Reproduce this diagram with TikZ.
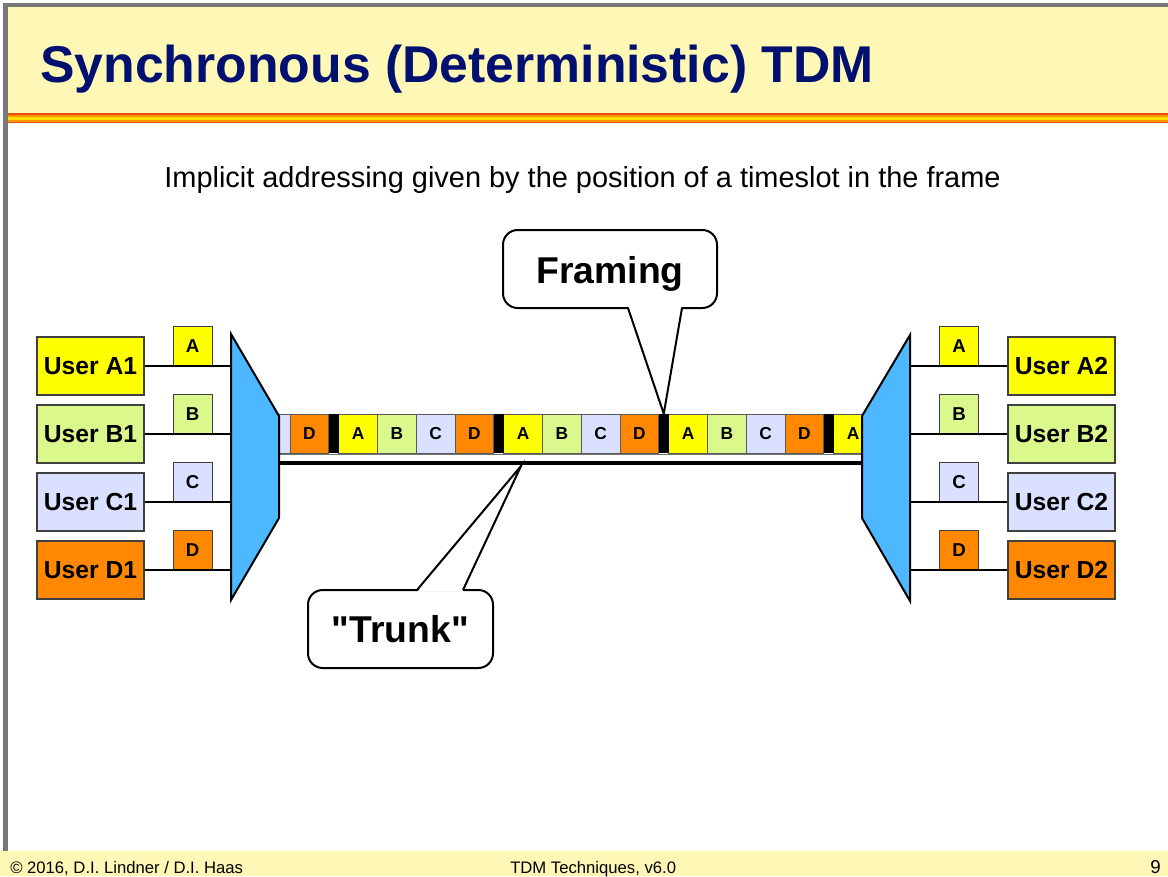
\documentclass[tikz,border=0pt]{standalone}
\usepackage{fontspec}
\setmainfont{Liberation Sans}
\newfontfamily\rawsans{Liberation Sans}
\definecolor{band}{RGB}{255,247,181}
\definecolor{navy}{RGB}{0,16,112}
\definecolor{cA}{RGB}{255,255,0}
\definecolor{cB}{RGB}{218,248,140}
\definecolor{cC}{RGB}{218,224,255}
\definecolor{cD}{RGB}{255,136,0}
\definecolor{muxblue}{RGB}{77,184,255}
\definecolor{stripeR}{RGB}{232,80,20}
\definecolor{stripeO}{RGB}{255,150,0}
\definecolor{stripeY}{RGB}{255,222,0}
\definecolor{bordergray}{RGB}{120,120,120}
\tikzset{
  ubox/.style={draw=black!75, line width=0.9pt, minimum width=80.25pt, minimum height=43.5pt, inner sep=0pt, font=\fontsize{18.5}{20}\selectfont\bfseries},
  lbox/.style={draw=black!75, line width=0.75pt, minimum width=29.25pt, minimum height=29.25pt, inner sep=0pt, font=\fontsize{14}{15}\selectfont\bfseries},
  slot/.style={draw=black!65, line width=0.6pt, minimum width=29.06pt, minimum height=29.25pt, inner sep=0pt, font=\fontsize{13}{14}\selectfont\bfseries},
  fslot/.style={fill=black, minimum width=7.5pt, minimum height=29.25pt, inner sep=0pt},
  muxshape/.style={fill=muxblue, draw=black, line width=1.5pt, line join=miter},
  wire/.style={draw=black, line width=1.1pt},
  callout/.style={draw=black, line width=1.5pt, rounded corners=11pt, fill=white, inner sep=0pt, font=\rawsans\fontsize{28}{30}\selectfont\bfseries},
  pointer/.style={draw=black, line width=1.5pt, line join=miter},
  foot/.style={anchor=base west, inner sep=0pt, font=\fontsize{12.5}{14}\selectfont}
}
\begin{document}
\begin{tikzpicture}[x=0.75pt,y=-0.75pt]
\useasboundingbox (0,0) rectangle (1168,876);
% frame, title band, stripes
\fill[white] (0,0) rectangle (1168,876);
\fill[band] (8,7) rectangle (1168,113);
\fill[bordergray] (3,3) rectangle (1168,7.3);
\fill[bordergray] (3,3) rectangle (8,851);
\fill[stripeR] (8,113) rectangle (1168,123);
\fill[stripeO] (8,114.5) rectangle (1168,121.5);
\fill[stripeY] (8,116.5) rectangle (1168,119.5);
\fill[band] (0,851) rectangle (1168,876);
\node[anchor=base west, inner sep=0pt, text=navy, font=\fontsize{38.8}{40}\selectfont\bfseries] (title) at (40,82) {Synchronous (Deterministic) TDM};
\node[anchor=base, inner sep=0pt, font=\fontsize{21.7}{24}\selectfont] (subtitle) at (582.5,187) {Implicit addressing given by the position of a timeslot in the frame};

% trunk lines and slots
\coordinate (trL) at (279,454);
\coordinate (trR) at (862,454);
\begin{scope}
\clip (279,400) rectangle (862,460);
\fill[cC, draw=black!65, line width=0.6pt] (270,414) rectangle (290,453);
\foreach \x/\l/\c [count=\i] in {309.375/D/cD, 358.125/A/cA, 396.875/B/cB, 435.625/C/cC, 474.375/D/cD, 523.125/A/cA, 561.875/B/cB, 600.625/C/cC, 639.375/D/cD, 688.125/A/cA, 726.875/B/cB, 765.625/C/cC, 804.375/D/cD, 853.125/A/cA}
  \node[slot, fill=\c] (s\i) at (\x,433.5) {\l};
\foreach \x [count=\i] in {333.75, 498.75, 663.75, 828.75}
  \node[fslot] (f\i) at (\x,433.5) {};
\end{scope}
\draw[black!55, line width=0.7pt] (trL) -- (trR);
\draw[black, line width=3pt] (279,463) -- (862,463);
\coordinate (trunktip) at (521,466);

% multiplexers
\draw[muxshape] (231,334) -- (279,416) -- (279,518) -- (231,600) -- cycle;
\draw[muxshape] (910,335) -- (862,416) -- (862,518) -- (910,601) -- cycle;

% users
\foreach \n/\c/\y/\l in {A/cA/366/A, B/cB/434/B, C/cC/502/C, D/cD/570/D} {
  \node[ubox, fill=\c] (u\n1) at (90.5,\y) {User \n1};
  \node[lbox, fill=\c, anchor=south] (l\n1) at (192.5,\y) {\l};
  \coordinate (m\n1) at (231,\y);
  \draw[wire] (u\n1.east) -- (m\n1);
  \node[ubox, fill=\c] (u\n2) at (1061.5,\y) {User \n2};
  \node[lbox, fill=\c, anchor=south] (l\n2) at (959,\y) {\l};
  \coordinate (m\n2) at (910,\y);
  \draw[wire] (m\n2) -- (u\n2.west);
}

% callouts
\node[callout, minimum width=160.5pt, minimum height=58.5pt, text height=27.5pt, text depth=5.9pt] (framing) at (610,269) {Framing};
\fill[white] (628.5,306.5) -- (681.5,306.5) -- (f3.north) -- cycle;
\draw[pointer] (628,308) -- (f3.north) -- (682,308);

\node[callout, minimum width=138.75pt, minimum height=58.5pt] (trunk) at (400.5,629) {"Trunk"};
\fill[white] (417.5,591.5) -- (462.5,591.5) -- (trunktip) -- cycle;
\draw[pointer] (417,590) -- (trunktip) -- (463,590);

% footer
\node[foot] (f1t) at (10,873) {© 2016, D.I. Lindner / D.I. Haas};
\node[foot] (f2t) at (510,873) {TDM Techniques, v6.0};
\node[foot, font=\fontsize{14}{16}\selectfont] (f3t) at (1150,873) {9};
\end{tikzpicture}
\end{document}
